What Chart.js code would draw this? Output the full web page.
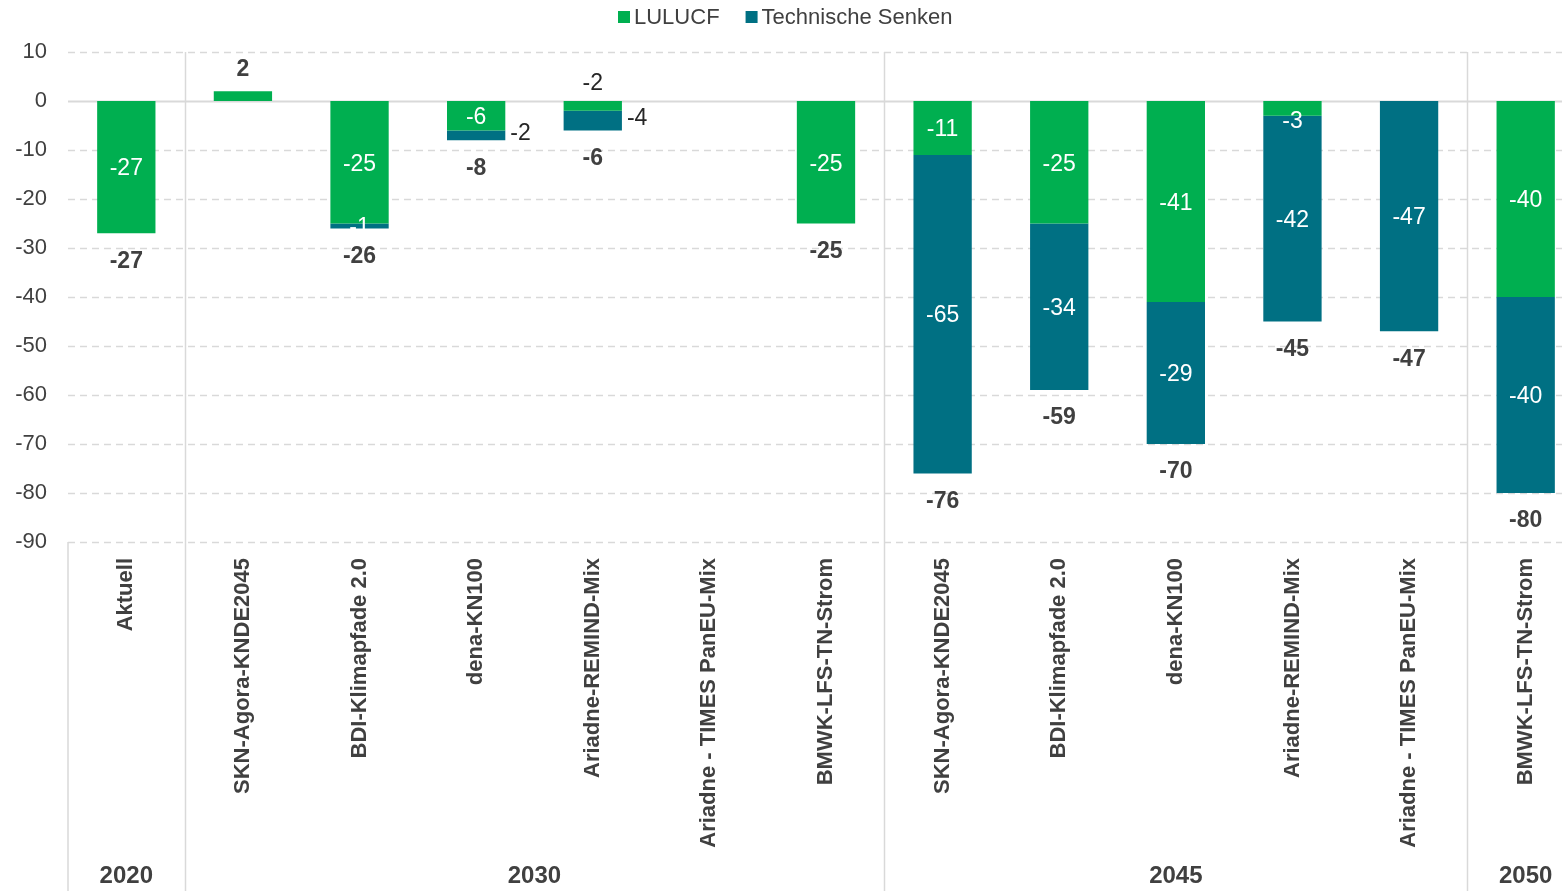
<!DOCTYPE html>
<html>
<head>
<meta charset="utf-8">
<script src="https://cdn.jsdelivr.net/npm/chart.js@4.4.1/dist/chart.umd.min.js"></script>
<style>
    html, body { margin: 0; padding: 0; background: #fff; overflow: hidden; }
    #wrap { width: 1586px; height: 891px; }
</style>
</head>
<body>
<div id="wrap"><canvas id="myBarChart" width="1586" height="891"></canvas></div>
<script>
// Kategorien (Szenarien) und Jahresgruppen
const categories = ['Aktuell', 'SKN-Agora-KNDE2045', 'BDI-Klimapfade 2.0', 'dena-KN100', 'Ariadne-REMIND-Mix',
    'Ariadne - TIMES PanEU-Mix', 'BMWK-LFS-TN-Strom', 'SKN-Agora-KNDE2045', 'BDI-Klimapfade 2.0', 'dena-KN100',
    'Ariadne-REMIND-Mix', 'Ariadne - TIMES PanEU-Mix', 'BMWK-LFS-TN-Strom'];
const groupLabels = ['2020', '2030', '2045', '2050'];
const groupSizes = [1, 6, 5, 1];

// Werte
const lulucf = [-27, 2, -25, -6, -2, null, -25, -11, -25, -41, -3, null, -40];
const technischeSenken = [null, null, -1, -2, -4, null, null, -65, -34, -29, -42, -47, -40];
const yTicks = [10, 0, -10, -20, -30, -40, -50, -60, -70, -80, -90];

// Abweichende Beschriftung einzelner Segmente
const lulucfLabelPos = { 1: 'none', 4: 'above', 10: 'edge' };
const technikLabelPos = { 3: 'right', 4: 'right' };

const GREEN = '#00AF50';
const TEAL = '#007083';
const TEXT = '#404040';
const GRID = '#d9d9d9';
const NARROW = '"Liberation Sans Narrow", "Liberation Sans", Arial, sans-serif';

const totals = categories.map((c, i) => {
    if (lulucf[i] === null && technischeSenken[i] === null) return null;
    return (lulucf[i] || 0) + (technischeSenken[i] || 0);
});

const deko = {
    id: 'deko',
    beforeDatasetsDraw(chart) {
        const ctx = chart.ctx;
        const area = chart.chartArea;
        const x = chart.scales.x;
        const y = chart.scales.y;
        ctx.save();
        // Gitterlinien
        yTicks.forEach(v => {
            const py = Math.round(y.getPixelForValue(v)) + 0.5;
            ctx.beginPath();
            ctx.strokeStyle = GRID;
            if (v === 0) {
                ctx.setLineDash([]);
                ctx.lineWidth = 2;
            } else {
                ctx.setLineDash([7, 5]);
                ctx.lineWidth = 1.5;
            }
            ctx.moveTo(area.left, py);
            ctx.lineTo(area.right, py);
            ctx.stroke();
        });
        ctx.setLineDash([]);
        // Trennlinien zwischen den Jahresgruppen
        const half = (x.getPixelForValue(1) - x.getPixelForValue(0)) / 2;
        ctx.strokeStyle = GRID;
        ctx.lineWidth = 1.5;
        ctx.beginPath();
        ctx.moveTo(area.left, area.bottom);
        ctx.lineTo(area.left, chart.height);
        let idx = 0;
        groupSizes.slice(0, -1).forEach(n => {
            idx += n;
            const px = Math.round(x.getPixelForValue(idx) - half) + 0.5;
            ctx.moveTo(px, area.top);
            ctx.lineTo(px, chart.height);
        });
        ctx.stroke();
        ctx.restore();
    },
    afterDatasetsDraw(chart) {
        const ctx = chart.ctx;
        const x = chart.scales.x;
        const y = chart.scales.y;
        const metaL = chart.getDatasetMeta(0);
        const metaT = chart.getDatasetMeta(1);
        ctx.save();
        ctx.textAlign = 'center';
        ctx.textBaseline = 'middle';

        categories.forEach((c, i) => {
            const barL = metaL.data[i];
            const barT = metaT.data[i];
            // LULUCF
            if (lulucf[i] !== null && lulucfLabelPos[i] !== 'none') {
                ctx.font = '23px ' + NARROW;
                if (lulucfLabelPos[i] === 'above') {
                    ctx.fillStyle = '#262626';
                    ctx.fillText(String(lulucf[i]), barL.x, y.getPixelForValue(0) - 17);
                } else if (lulucfLabelPos[i] === 'edge') {
                    ctx.fillStyle = '#fff';
                    ctx.fillText(String(lulucf[i]), barL.x, barL.y + 6);
                } else {
                    ctx.fillStyle = '#fff';
                    ctx.fillText(String(lulucf[i]), barL.x, (barL.y + barL.base) / 2 + 2);
                }
            }
            // Technische Senken
            if (technischeSenken[i] !== null) {
                ctx.font = '23px ' + NARROW;
                const cy = (barT.y + barT.base) / 2;
                if (technikLabelPos[i] === 'right') {
                    ctx.fillStyle = '#262626';
                    ctx.textAlign = 'left';
                    ctx.fillText(String(technischeSenken[i]), barT.x + barT.width / 2 + 5, cy - 2);
                    ctx.textAlign = 'center';
                } else {
                    ctx.fillStyle = '#fff';
                    ctx.fillText(String(technischeSenken[i]), barT.x, cy + 2);
                }
            }
            // Summe
            if (totals[i] !== null) {
                ctx.font = 'bold 23px ' + NARROW;
                ctx.fillStyle = TEXT;
                const ty = totals[i] >= 0
                    ? y.getPixelForValue(totals[i]) - 22
                    : y.getPixelForValue(totals[i]) + 28;
                ctx.fillText(String(totals[i]), x.getPixelForValue(i), ty);
            }
        });

        // Jahresgruppen unten
        ctx.font = 'bold 24px ' + NARROW;
        ctx.fillStyle = TEXT;
        let start = 0;
        groupSizes.forEach((n, g) => {
            const cx = (x.getPixelForValue(start) + x.getPixelForValue(start + n - 1)) / 2;
            ctx.fillText(groupLabels[g], cx, 876);
            start += n;
        });

        // Legende
        ctx.font = '22px ' + NARROW;
        ctx.textAlign = 'left';
        let lx = 618;
        chart.data.datasets.forEach(ds => {
            ctx.fillStyle = ds.backgroundColor;
            ctx.fillRect(lx, 11, 12, 12);
            ctx.fillStyle = TEXT;
            ctx.fillText(ds.label, lx + 16, 18);
            lx += 16 + ctx.measureText(ds.label).width + 26;
        });
        ctx.restore();
    }
};

const ctxBar = document.getElementById('myBarChart').getContext('2d');
const myBarChart = new Chart(ctxBar, {
    type: 'bar',
    data: {
        labels: categories,
        datasets: [{
            label: 'LULUCF',
            data: lulucf,
            backgroundColor: GREEN,
            borderWidth: 0
        }, {
            label: 'Technische Senken',
            data: technischeSenken,
            backgroundColor: TEAL,
            borderWidth: 0
        }]
    },
    options: {
        responsive: false,
        animation: false,
        layout: {
            padding: { top: 52, right: 2, left: 0, bottom: 0 }
        },
        datasets: {
            bar: {
                barPercentage: 0.5,
                categoryPercentage: 1
            }
        },
        plugins: {
            legend: { display: false },
            tooltip: { enabled: false }
        },
        scales: {
            x: {
                stacked: true,
                grid: { display: false, drawTicks: false },
                border: { display: false },
                ticks: {
                    autoSkip: false,
                    minRotation: 90,
                    maxRotation: 90,
                    padding: 16,
                    color: TEXT,
                    font: { family: '"Liberation Sans", Arial, sans-serif', size: 22, weight: 'bold' }
                },
                afterFit: function(scale) {
                    scale.height = 349;
                }
            },
            y: {
                stacked: true,
                min: -90,
                max: 10,
                grid: { display: false, drawTicks: false },
                border: { display: false },
                ticks: {
                    stepSize: 10,
                    padding: 21,
                    color: TEXT,
                    font: { family: '"Liberation Sans", Arial, sans-serif', size: 22 }
                },
                afterFit: function(scale) {
                    scale.width = 68;
                }
            }
        }
    },
    plugins: [deko]
});
</script>
</body>
</html>
